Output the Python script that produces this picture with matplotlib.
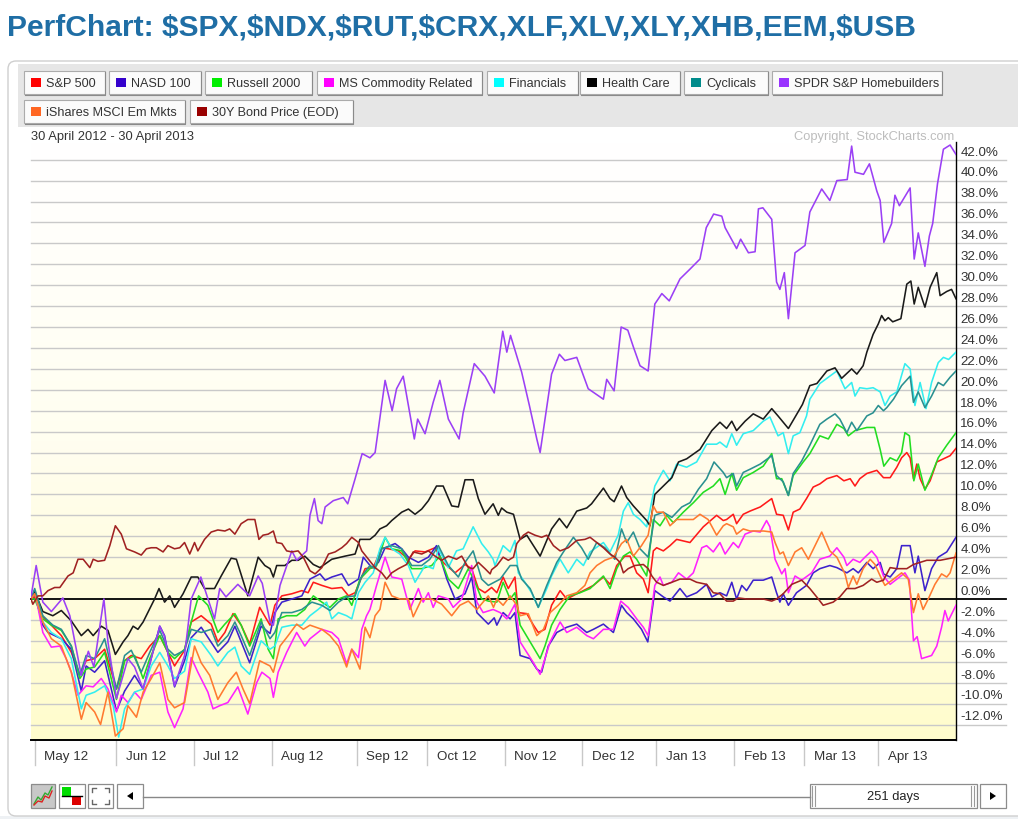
''' PERFCHART RECREATION '''

import numpy as np
import matplotlib.pyplot as plt
from matplotlib.patches import Rectangle, FancyBboxPatch, Polygon
from matplotlib.colors import LinearSegmentedColormap

plt.rcParams['font.family'] = ['Liberation Sans', 'DejaVu Sans']

W, H = 1018, 820

# (trading day since 30 Apr 2012, % change)
spx = [(0,0),(1,0.2),(3.2,-1.7),(5.5,-2.5),(8.2,-3.5),(10.9,-5.1),(13.2,-7.2),(14.9,-5.9),(17.2,-5.7),(19.9,-4.8),(23.1,-8.6),(25.3,-5.9),(27.1,-5.4),(29.8,-5.7),(32.1,-4.5),(34.8,-3.5),(37,-5.1),(38.8,-6.4),(41.5,-4.9),(43.3,-2.2),(46,-1.6),(48.7,-2.4),(50.5,-4.1),(52.4,-3.2),(54.6,-1.4),(56.8,-2.5),(59.1,-4.3),(61.8,-0.8),(64.6,-2.5),(65.9,-0.6),(67.8,0.3),(70.5,0.5),(73.2,0.8),(74.9,0.6),(76.3,1.6),(78.6,1.3),(81.3,1.0),(84,1.1),(85.8,0.3),(87.6,0.6),(90.3,2.9),(92.5,3.0),(94.8,4.9),(96.6,4.8),(99.3,4.6),(102,3.8),(103.8,4.6),(106.5,4.5),(109.2,4.9),(111.4,3.5),(114.6,2.5),(117.3,3.3),(119.1,2.9),(120.9,1.0),(122.7,0.6),(124.5,1.1),(125.9,0.6),(127.6,2.1),(129,1.0),(130.8,2.1),(131.7,-1.3),(134,-1.4),(135.8,-2.5),(137.1,-3.2),(138.9,-2.9),(140.7,-0.6),(143,0.8),(144.8,0.0),(147.5,0.5),(149.3,0.8),(152,1.3),(154.7,2.1),(156.5,1.4),(158.3,3.2),(160.5,4.1),(161.9,4.1),(163.7,2.5),(165.5,1.9),(166.8,0.6),(168.2,4.6),(169.1,4.9),(170.9,4.6),(172.7,5.1),(174.5,5.7),(178.1,5.4),(181.7,6.9),(185.3,8.0),(187.1,7.5),(188,7.6),(189.8,8.1),(190.7,7.2),(192.5,8.1),(194.3,8.4),(197.1,8.8),(200.2,9.6),(201.5,8.1),(203.3,8.0),(204.7,6.6),(206,8.3),(207.8,8.6),(209.6,9.6),(211.4,10.7),(213.2,11.0),(215.1,11.5),(217.8,11.8),(219.7,11.3),(221.4,11.5),(222.7,10.8),(224,11.5),(225.9,12.0),(228.6,12.3),(230.4,11.6),(232.2,11.6),(234,12.6),(235.3,13.5),(236.7,14.0),(237.6,13.5),(238.5,11.5),(239.4,12.9),(240.3,11.5),(241.6,10.5),(243,11.3),(244.8,13.1),(246.6,13.4),(248.4,13.7),(250,14.4)]

ndx = [(0,0),(1,0.5),(3.2,-2.5),(4.6,-3.2),(8.2,-3.8),(10.9,-4.8),(13.6,-8.8),(14.9,-6.4),(17.2,-7.0),(19.9,-5.9),(23.1,-10.7),(25.3,-8.8),(28,-7.3),(30.3,-8.6),(34.8,-2.6),(36.1,-3.5),(38.8,-8.4),(41.5,-5.9),(43.3,-3.7),(46,-2.7),(50.5,-5.1),(53.2,-4.1),(55.1,-2.6),(59.1,-6.1),(62.2,-2.6),(64.6,-3.3),(65.9,-1.3),(67.8,-0.3),(70.5,0.0),(73.2,0.3),(75.4,1.9),(78.1,2.4),(79.5,1.8),(81.3,2.1),(84,2.4),(85.8,1.3),(88.5,1.9),(89.8,4.0),(92.1,3.0),(93.9,3.5),(95.7,4.9),(98.4,5.3),(100.2,4.8),(102,4.0),(104.7,3.5),(107.4,4.0),(109.6,5.1),(112.4,1.9),(114.6,0.0),(117.3,0.5),(119.1,2.1),(120.5,-1.3),(123.6,-2.4),(125.2,-1.8),(125.9,-2.5),(127.6,-1.3),(129.5,-1.9),(130.8,-1.3),(132.2,-5.4),(134.9,-5.7),(136.7,-6.7),(138,-7.0),(139.8,-4.5),(142.1,-3.2),(144.8,-2.7),(147.5,-2.4),(150.2,-3.2),(152,-2.9),(154.7,-2.4),(157.4,-3.2),(159.6,-0.6),(161,-1.3),(162.8,-1.9),(165,-2.9),(166.7,-4.1),(168.6,0.8),(170.9,0.2),(172.7,-0.2),(175.4,1.0),(177.2,0.2),(179.9,0.6),(182.6,1.4),(184,0.2),(186.2,0.6),(188,0.3),(189.4,1.6),(190.7,0.0),(192.1,1.3),(193.4,0.8),(195.2,1.8),(197.9,1.8),(200.2,2.1),(201.5,0.6),(202.4,-0.3),(203.3,0.5),(204.7,-0.6),(206.9,0.6),(209.6,1.3),(211.4,2.5),(213.2,2.9),(215.9,3.2),(217.8,3.0),(220.5,2.5),(222.2,2.9),(223.6,2.5),(225.9,3.5),(227.6,2.9),(229.5,3.5),(230.4,2.4),(232.2,2.1),(234,2.9),(235.3,5.1),(237.6,5.1),(238.9,2.5),(239.8,4.1),(241.6,0.8),(243.4,2.9),(245.2,4.0),(247.5,4.5),(250,5.9)]

rut = [(0,0),(1,0.0),(3.2,-1.9),(5.5,-2.5),(8.2,-3.0),(10.9,-4.5),(13.2,-7.6),(14.9,-6.7),(17.2,-6.5),(19.9,-5.1),(23.1,-9.6),(25.3,-5.9),(28,-5.4),(30.3,-7.6),(32.1,-5.7),(34.8,-3.5),(37,-5.1),(38.8,-5.7),(41.5,-4.8),(43.3,-2.2),(45.3,0.3),(47.8,-0.6),(50.5,-3.2),(52.4,-2.4),(55.1,-1.4),(56.8,-2.5),(59.1,-4.5),(62.2,-1.9),(64.1,-4.8),(65.5,-5.7),(66.8,-1.9),(69.1,-1.6),(71.8,-1.6),(74,-1.0),(76.3,0.3),(78.6,-0.3),(80.8,-0.8),(83.1,0.0),(85.3,0.3),(86.7,-0.6),(88.9,1.9),(91.6,2.9),(93.4,3.2),(95.7,5.9),(97.5,4.8),(100.2,4.6),(102.9,2.9),(105.6,2.9),(108.3,3.2),(110.5,4.1),(112.8,1.9),(115.5,1.0),(118.2,2.9),(120,1.6),(121.8,0.0),(123.6,-0.2),(125.9,-0.3),(127.6,1.6),(129.5,0.0),(130.8,0.6),(132.2,-2.5),(134.9,-4.1),(137.6,-5.7),(138.9,-4.5),(140.7,-2.5),(143,-1.0),(145.6,0.3),(148.4,0.6),(151.1,1.0),(152.9,1.6),(154.7,2.2),(156.5,1.0),(158.3,2.9),(160.1,4.1),(161.9,4.5),(163.7,3.8),(166.4,2.2),(168.2,7.6),(170,7.0),(171.8,8.0),(173.6,7.3),(176.3,8.3),(179,9.2),(181.7,10.2),(184.4,10.8),(186.2,11.5),(187.6,10.0),(189.4,12.0),(190.7,10.4),(192.5,11.6),(195.2,12.1),(197.9,12.7),(200.2,13.9),(201.5,11.5),(202.9,11.5),(204.7,9.9),(206,11.8),(208.7,13.1),(210.5,13.9),(213.2,15.6),(215.5,15.3),(217.8,16.7),(219.7,16.3),(220.9,15.6),(222.7,16.1),(225.9,16.4),(228,16.4),(229.5,14.3),(230.5,12.7),(232.2,13.5),(234,13.2),(235.3,14.0),(236.2,15.9),(237.4,15.6),(238.6,11.3),(239.8,12.9),(241.6,10.4),(243.3,11.8),(245.2,13.5),(247.5,14.7),(250,15.9)]

crx = [(0,0),(1,0.8),(3.2,-3.2),(5.5,-4.6),(7.8,-4.5),(9.5,-5.7),(10.9,-7.0),(12.7,-9.2),(14.9,-8.3),(16.8,-8.4),(19,-7.6),(20.8,-8.6),(23.1,-10.8),(24.4,-9.2),(26.2,-9.9),(28,-8.9),(29.8,-9.6),(32.5,-7.3),(34.8,-7.0),(37,-10.8),(38.8,-12.3),(41.1,-10.5),(43.3,-5.6),(45.1,-7.0),(47.8,-8.9),(49.2,-10.5),(51,-10.2),(53.2,-9.9),(55.9,-8.4),(58.6,-11.0),(61,-8.0),(62.4,-7.0),(64.6,-7.6),(65.5,-9.4),(66.8,-7.0),(69.1,-5.1),(71.8,-3.2),(74,-4.5),(75.4,-3.8),(78.6,-2.9),(81.3,-3.2),(83.1,-3.8),(85.3,-6.2),(86.7,-4.8),(88.5,-5.6),(89.4,-2.9),(90.7,-1.6),(91.6,-1.0),(93.4,1.3),(95.7,4.0),(97.5,2.1),(100.2,1.9),(102.4,-1.0),(104.7,1.0),(106,-0.3),(107.4,0.6),(108.7,-0.8),(110.1,0.3),(112.8,0.0),(114.1,-0.8),(116.4,0.0),(119.1,3.2),(120.5,-0.3),(122.2,-1.3),(124.9,-1.0),(126.8,-1.3),(128.6,-1.9),(130.8,-0.5),(132.2,-4.1),(134,-5.1),(135.8,-6.1),(137.6,-7.2),(138.9,-5.7),(140.3,-4.1),(143,-2.2),(144.8,-3.2),(147.5,-2.7),(150.2,-3.5),(152,-3.8),(154.7,-2.9),(157.4,-2.9),(159.4,-0.2),(161.4,-0.8),(163.7,-1.9),(165.5,-2.7),(166.8,-3.5),(168.6,1.3),(170,2.1),(170.9,1.3),(173.2,1.6),(175,2.5),(177.2,1.9),(179,2.5),(181.3,4.9),(182.6,5.1),(184.4,4.5),(186.2,5.4),(187.6,4.3),(189.8,5.4),(191.2,4.9),(193,6.2),(195.2,6.5),(197.1,6.4),(198.8,7.5),(199.7,6.9),(201.1,3.8),(202.9,2.4),(203.8,2.9),(204.7,0.6),(206.5,2.2),(208.3,1.8),(211,2.5),(213.2,3.8),(215.9,4.1),(217.8,4.9),(219.7,4.0),(220.5,3.2),(222.2,3.8),(224,3.5),(225.4,4.0),(227.2,4.6),(228.6,4.0),(230.4,2.2),(232.2,1.4),(234,1.9),(236.2,2.5),(237.4,1.8),(238.5,-4.0),(239.5,-3.6),(240.7,-5.7),(243.4,-5.4),(244.8,-4.5),(246.1,-2.7),(247,-1.1),(247.9,-2.1),(250,-0.6)]

xlf = [(0,0),(1,0.6),(3.2,-2.2),(5.5,-3.2),(8.2,-3.8),(10.9,-5.7),(13.6,-10.5),(14.9,-9.2),(17.2,-8.9),(19.9,-8.3),(22.2,-10.2),(23.7,-13.2),(25.3,-10.5),(28,-8.9),(30.3,-8.6),(32.5,-6.4),(34.8,-5.1),(37,-6.4),(38.8,-7.6),(41.5,-6.9),(43.3,-3.8),(46,-4.1),(48.7,-5.4),(50.5,-6.4),(53.2,-5.1),(55.1,-4.6),(56.8,-6.4),(59.1,-7.2),(62.2,-4.0),(64.6,-4.8),(65.9,-4.5),(67.8,-2.7),(70.5,-2.5),(73.2,-2.5),(75.4,-1.6),(77.6,-1.0),(79.9,-0.3),(81.3,-1.9),(83.1,-1.3),(85.3,-1.6),(86.7,-1.9),(88.5,0.6),(90.3,1.6),(92.5,2.5),(94.3,4.8),(95.7,5.9),(97.5,4.8),(99.7,4.3),(102,3.2),(103.8,1.6),(106.5,3.2),(108.7,2.9),(110.1,4.8),(112.8,3.0),(115,4.6),(116.8,4.8),(119.5,6.9),(121.8,5.3),(123.6,4.5),(124.9,3.8),(125.4,3.2),(127.6,5.1),(129.5,4.5),(130.8,5.6),(131.7,2.5),(133.5,1.6),(135.3,0.6),(137.1,-0.8),(139.4,1.0),(140.7,2.2),(143,3.8),(145.2,2.5),(147.5,3.8),(149.3,3.2),(151.1,4.5),(154.7,5.4),(156.5,4.5),(158.7,6.1),(160.1,8.4),(161.4,9.2),(162.8,8.1),(164.6,7.6),(166.4,6.9),(168.6,10.8),(170.9,12.3),(172.7,11.3),(174.5,12.9),(177.2,12.6),(179.9,13.1),(182.6,14.8),(185.3,14.8),(186.2,15.0),(188,14.5),(189.4,15.8),(190.7,14.7),(192.5,15.8),(195.2,16.1),(197.9,17.0),(199.7,17.4),(201.9,15.6),(203.3,15.9),(204.7,13.9),(206,15.6),(207.8,15.9),(209.6,17.5),(210.5,19.1),(213.2,20.6),(215.5,21.2),(217.8,21.8),(220,20.1),(221.8,20.7),(222.7,19.4),(224,20.2),(225.9,20.1),(227.6,20.2),(229.5,19.8),(230.8,18.5),(232.2,19.4),(234,19.8),(236.2,22.5),(237.6,22.0),(238.9,18.5),(240.3,20.7),(241.9,18.2),(243.4,20.7),(245.2,22.6),(246.6,23.1),(248,22.9),(250,23.6)]

xlv = [(0,0),(1,0.7),(3.2,-1.2),(5.9,-1.6),(8.2,-1.1),(10.9,-2.1),(13.6,-3.5),(15.4,-2.9),(16.8,-3.5),(19,-2.6),(20.8,-3.0),(22.8,-5.3),(24.9,-4.1),(26.2,-3.5),(27.6,-2.6),(28.9,-2.9),(30.3,-2.2),(33.4,0.0),(34.6,1.0),(36.1,-0.3),(37.5,0.3),(38.8,-0.8),(41.1,0.5),(43.3,2.1),(45.1,2.1),(46.9,1.0),(49.6,1.0),(51.4,2.2),(54.1,3.9),(55.5,3.8),(58.6,0.3),(61.4,4.0),(63.2,3.2),(64.6,2.9),(65.5,2.1),(66.4,3.2),(68.6,3.2),(70.5,3.7),(72.2,3.7),(74,4.1),(76.3,3.3),(78.1,3.0),(81.3,3.8),(84.9,4.1),(87.6,4.3),(88.9,5.7),(91.6,5.7),(93,6.1),(94.3,6.7),(96.1,7.0),(97.5,7.5),(100.2,8.3),(102,8.6),(103.8,8.1),(105.6,8.6),(107.4,9.4),(109.6,10.8),(111.4,10.8),(113.7,8.9),(115.5,8.8),(117.3,11.4),(119.5,11.4),(120.9,9.6),(122.7,8.1),(124.9,9.1),(126.3,8.0),(127.2,8.7),(128.6,8.3),(130.4,8.1),(132.2,5.7),(134,6.1),(135.8,5.1),(137.6,4.1),(140.7,6.7),(142.8,7.7),(144.8,6.8),(147.5,8.4),(150.2,8.7),(151.5,9.1),(154.7,10.6),(156.5,9.6),(157.6,9.3),(159.6,10.8),(161,9.7),(162.8,8.9),(166.4,7.5),(167.3,7.0),(168.6,10.0),(170.9,10.8),(173.2,11.6),(175,13.1),(177.2,13.4),(180.8,14.3),(184,16.1),(186.2,16.9),(188,16.3),(189.4,17.0),(190.7,16.1),(193,17.0),(195.2,17.7),(197.9,17.2),(200.2,18.2),(201.9,17.5),(204.7,16.3),(207,17.7),(208.5,18.6),(210.5,20.4),(212.4,20.6),(215.1,21.8),(217.3,22.1),(219.1,21.1),(221.8,22.0),(223.2,21.5),(224.9,22.3),(225.9,23.6),(227.6,25.3),(229,26.3),(229.9,27.1),(230.8,26.6),(231.7,26.9),(232.9,26.5),(235.1,26.8),(236.7,30.1),(237.8,30.4),(238.7,28.2),(239.8,29.8),(241.6,27.9),(243,29.8),(244.8,31.2),(245.7,29.0),(247.5,29.4),(248.8,29.6),(250,28.7)]

xly = [(0,0),(1,1.0),(3.2,-1.6),(5.9,-2.5),(8.2,-2.9),(10.9,-4.5),(13.2,-7.3),(14.9,-5.4),(17.2,-5.7),(19.9,-3.8),(23.1,-8.6),(25.3,-5.4),(27.1,-4.9),(29.8,-7.0),(32.1,-5.1),(34.8,-3.0),(37,-4.8),(38.8,-5.4),(41.5,-4.9),(43.3,-2.9),(46,-3.2),(48.7,-2.9),(50.5,-4.5),(53.2,-3.5),(55.1,-2.2),(56.8,-3.5),(59.1,-5.4),(62.2,-2.2),(64.6,-3.8),(65.9,-3.2),(67.8,-1.3),(70.5,-1.3),(73.2,-1.0),(75.9,-0.3),(78.6,-0.6),(80.8,-1.1),(83.1,-0.3),(85.3,0.2),(87.6,0.3),(89.4,2.2),(91.6,3.2),(93,2.9),(94.8,4.8),(97.5,5.1),(100.2,4.8),(102.9,3.2),(105.6,3.2),(107.8,3.8),(110.1,5.1),(112.8,3.2),(115.5,2.1),(117.3,3.5),(119.5,4.6),(121.8,1.9),(123.6,1.3),(126.8,1.9),(129.5,3.2),(131.3,3.2),(132.6,1.9),(134.9,1.0),(137.1,-0.8),(139.4,1.3),(142.1,3.5),(143.9,4.5),(146.6,5.9),(148.8,4.9),(150.6,3.8),(152.9,5.4),(155.1,4.9),(157.8,3.8),(159.6,6.7),(161,5.4),(162.8,6.4),(164.6,4.8),(166.8,4.0),(168.6,8.0),(170.9,8.3),(173.2,7.8),(175.9,8.8),(178.1,9.2),(180.4,10.5),(182.6,11.5),(184.6,13.1),(187.1,12.1),(188,11.6),(189.8,12.0),(190.7,10.8),(192.5,12.1),(194.3,12.4),(197.1,12.9),(200.2,13.7),(201.5,11.8),(203.3,11.2),(204.7,9.9),(206,12.0),(208.3,13.2),(210.5,14.7),(213.2,16.7),(215.1,17.2),(217.3,17.7),(218.6,17.2),(220.5,15.9),(221.8,16.9),(223.2,16.1),(225.9,17.5),(227.6,17.8),(229,18.5),(230.4,18.0),(231.3,18.3),(233.1,19.1),(235.3,20.4),(237.6,21.3),(238.5,18.8),(239.8,19.8),(241.6,18.3),(243.4,19.4),(245.2,20.7),(246.6,20.4),(248.4,21.2),(250,21.8)]

xhb = [(0,0.2),(1.4,3.2),(3.2,-0.3),(5.5,-1.2),(8.6,0.1),(10.5,-1.6),(13.6,-7.3),(15.5,-5.0),(17,-6.5),(18.6,-2.6),(19.7,0.0),(20.8,-4.1),(23.1,-9.5),(26.2,-5.7),(28,-6.5),(30.3,-8.6),(34.8,-2.6),(36,-3.5),(38.8,-8.3),(41.5,-5.4),(43.3,0.0),(45.9,2.1),(49.6,-1.9),(51,1.0),(52.7,0.2),(55.9,1.4),(59.1,0.3),(61.4,2.2),(62.5,1.5),(64.6,-2.2),(65.5,-2.5),(67.3,1.3),(70.5,4.6),(71.8,3.7),(74.5,4.6),(75.4,8.0),(76.6,9.6),(77.6,7.5),(78.6,7.2),(79.5,8.8),(81.7,9.4),(84.4,9.7),(85.6,9.1),(87.6,11.5),(89.5,13.9),(91.6,13.5),(93,14.0),(95.7,20.9),(97.6,18.0),(98.8,20.1),(100.6,21.3),(103.6,15.3),(104.5,17.2),(106.5,15.8),(108.7,18.8),(110.5,20.9),(112.8,17.2),(115.7,15.3),(116.8,17.8),(119.8,22.5),(122.7,21.3),(125.2,19.7),(127.5,25.6),(128.6,23.6),(129.6,25.2),(132.6,21.7),(134.7,18.5),(136.7,15.3),(137.6,14.0),(140.7,21.5),(142.8,23.4),(144.3,22.8),(147.5,23.1),(150.6,20.1),(154.7,19.1),(155.6,21.0),(157.6,19.9),(159.5,26.0),(161.3,25.7),(162.8,24.1),(164.6,22.3),(166.8,21.8),(168.6,28.2),(170.5,29.2),(172.5,28.5),(175.4,30.6),(178,31.5),(180.8,32.5),(182.5,35.5),(184.5,36.8),(186.7,36.6),(187.6,35.5),(190.7,33.5),(191.8,34.4),(193.9,33.1),(195.7,33.2),(196.6,37.3),(197.8,37.4),(200.2,36.3),(201.5,30.3),(202.4,29.6),(203.6,31.2),(204.7,26.8),(206.5,33.1),(209.2,33.8),(210.5,37.0),(213.7,39.2),(215.9,38.1),(217.8,40.0),(220.6,40.1),(221.8,43.3),(222.7,40.8),(225,40.6),(226.6,41.6),(228.6,39.0),(229.5,38.1),(230.5,34.1),(232.6,35.9),(233.5,38.6),(234.7,37.6),(237.6,39.3),(238.7,32.5),(239.8,35.0),(241.6,31.8),(242.8,34.7),(243.7,35.9),(245,39.7),(246.6,43.0),(248.4,43.4),(250,42.5)]

eem = [(0,0),(1,0.5),(3.2,-2.2),(5.5,-3.8),(8.2,-4.5),(10.9,-7.0),(13.6,-11.5),(14.9,-9.9),(17.2,-10.8),(18.8,-12.0),(20.8,-8.9),(22.8,-13.1),(24.9,-12.4),(26.2,-10.2),(28.5,-11.3),(30.3,-8.9),(32.5,-7.6),(34.8,-6.1),(37,-9.6),(38.8,-10.4),(41.5,-9.9),(44.2,-4.5),(46,-6.1),(48.3,-7.3),(50.5,-9.6),(53.2,-8.0),(55.5,-7.0),(57.3,-8.6),(59.1,-10.0),(61.8,-5.9),(64.6,-6.4),(65.5,-7.0),(67.3,-4.5),(69.5,-3.5),(71.8,-2.4),(73.6,-2.9),(75.4,-2.5),(78.6,-2.9),(80.8,-3.5),(83.1,-4.5),(85.3,-6.5),(86.7,-4.8),(88.9,-6.7),(90.3,-2.7),(91.6,-3.7),(93,-1.6),(94.3,-1.0),(95.7,1.6),(97.5,0.3),(99.7,0.0),(102,0.0),(103.3,-1.7),(105.6,0.0),(108.3,0.0),(111,-0.5),(113.7,-1.6),(115.9,-0.6),(118.2,-0.2),(120.5,-1.0),(123.6,0.3),(125,-0.8),(125.9,0.0),(127.6,-0.6),(129.5,0.3),(131.3,-0.6),(132.2,-1.6),(134.4,-1.4),(136.7,-3.5),(138.5,-2.9),(140.3,-1.3),(142.5,-0.6),(144.8,0.3),(147.5,0.6),(149.7,1.3),(151.1,2.5),(152.9,3.2),(155.1,3.7),(157.4,4.0),(159.6,5.3),(161,5.7),(162.8,4.1),(165,5.1),(166.8,6.1),(168.2,8.9),(169.1,8.3),(170.9,8.3),(172.7,7.0),(174.5,7.6),(176.8,7.6),(179,7.6),(180.8,8.1),(183,7.6),(185.3,6.1),(187.1,7.0),(188,7.2),(189.8,6.9),(190.7,6.2),(192.5,6.7),(194.3,6.5),(196.1,6.5),(198,6.5),(200.2,6.4),(201.1,5.4),(202.4,4.3),(203.3,4.5),(204.7,3.2),(206.5,4.5),(208.3,4.9),(210.1,3.8),(211.9,5.1),(213.7,6.4),(215.9,4.6),(217.8,4.0),(220,2.4),(220.9,1.1),(222.2,2.2),(223.2,1.4),(224.9,2.9),(226.8,3.8),(228.1,3.3),(229.9,1.9),(230.8,1.3),(233.1,1.9),(235.3,2.5),(237.1,1.9),(238.5,-1.3),(239.8,0.5),(241.1,-1.0),(242.5,0.0),(244.3,1.4),(246.1,2.4),(247.5,2.1),(248.4,2.5),(250,4.4)]

usb = [(0,0),(0.5,-0.5),(1.9,0.3),(3.2,0.3),(4.6,0.8),(6.4,1.1),(7.8,1.1),(10,2.2),(11.4,2.5),(12.7,3.8),(14.1,3.8),(15.9,3.0),(16.8,3.8),(18.1,3.6),(19.9,3.7),(21.3,5.1),(22.8,7.0),(24.4,6.2),(25.8,4.8),(28,4.5),(29.8,4.2),(31.2,4.8),(32.5,4.9),(33.9,4.9),(35.7,4.5),(37,5.1),(38.8,4.8),(40.2,4.9),(41.5,5.4),(42.9,4.3),(44.2,5.4),(45.1,4.6),(46.9,5.7),(48.7,6.4),(50.5,6.6),(52.4,6.5),(53.7,6.7),(55.1,6.2),(56.8,7.2),(58.6,7.6),(60.5,7.6),(61.6,5.7),(62.7,6.1),(64.1,6.2),(65.5,6.5),(66.4,5.4),(67.8,5.3),(69.1,4.6),(70.5,4.5),(72.2,4.6),(73.6,4.0),(75.4,2.7),(76.8,2.4),(78.6,3.0),(80.4,4.3),(82.2,4.5),(84,4.9),(85.3,5.3),(86.7,5.9),(88.5,5.4),(89.4,4.6),(91.2,3.8),(93,3.0),(94.8,2.5),(96.1,1.9),(97.5,2.5),(99.3,2.9),(101.5,3.3),(103.3,4.5),(105.6,4.3),(107.4,4.6),(109.2,4.1),(111,3.7),(112.8,4.1),(115,3.8),(116.4,4.1),(118.2,3.0),(119.5,2.9),(120.9,3.5),(122.7,2.9),(124.1,2.4),(124.5,2.8),(125.9,3.2),(127.6,4.0),(129,3.7),(130.4,4.0),(131.3,5.3),(133.1,6.1),(134.4,6.4),(136.2,6.1),(138,5.9),(139.4,6.1),(141.2,5.1),(143,4.6),(145.2,4.9),(147.5,5.6),(149.7,5.7),(151.1,5.9),(152.9,5.4),(154.7,4.9),(156.5,4.3),(157.8,4.0),(159.2,3.5),(160.1,2.5),(161.4,2.9),(163.2,3.2),(165.5,3.3),(166.8,2.9),(167.8,2.2),(169.1,1.6),(170.9,1.3),(173.2,1.6),(175.4,1.9),(178.1,1.9),(179.9,1.6),(182.6,1.4),(184.4,0.6),(186.2,0.5),(188,-0.2),(189.8,-0.2),(191.2,0.1),(193.4,0.0),(195.2,0.0),(197.9,0.0),(200.2,-0.2),(201.5,0.0),(203.3,0.5),(205.6,1.4),(208.3,1.8),(210.5,1.0),(212.8,0.0),(214.1,-0.6),(216.8,-0.3),(218.6,0.2),(220.5,1.0),(222.7,1.0),(224.9,1.3),(227.2,1.9),(228.6,1.6),(230.4,1.8),(232.2,3.0),(234,2.9),(236.7,2.9),(238.5,3.3),(242.1,3.7),(245.7,3.7),(250,4.0)]

names = ["S&P 500", "NASD 100", "Russell 2000", "MS Commodity Related", "Financials",
         "Health Care", "Cyclicals", "SPDR S&P Homebuilders", "iShares MSCI Em Mkts",
         "30Y Bond Price (EOD)"]
swatch_colors = ["#FF0000", "#3300CC", "#00EE00", "#FF00FF", "#00FFFF",
                 "#000000", "#008B8B", "#9933FF", "#FF6622", "#990000"]
line_colors = ["#FF1A1A", "#3D22CC", "#22DD22", "#FF22FF", "#33EEF0",
               "#1A1A1A", "#2A9090", "#9B40F5", "#FF7A30", "#A02222"]
all_series = [spx, ndx, rut, crx, xlf, xlv, xly, xhb, eem, usb]

month_labels = ["May 12", "Jun 12", "Jul 12", "Aug 12", "Sep 12", "Oct 12",
                "Nov 12", "Dec 12", "Jan 13", "Feb 13", "Mar 13", "Apr 13"]
month_starts = [1, 23, 44, 65, 88, 107, 128, 149, 169, 190, 209, 229]
y_ticks = list(range(-12, 43, 2))

fig = plt.figure(figsize=(W / 100, H / 100), dpi=100)

# page / panel decoration in pixel coords
bg = fig.add_axes([0, 0, 1, 1])
bg.set_xlim(0, W)
bg.set_ylim(H, 0)
bg.axis('off')

bg.add_patch(Rectangle((0, 817), W, 3, fc='#EEF1F4', ec='none'))
bg.add_patch(FancyBboxPatch((8, 62), 1040, 755, boxstyle="round,pad=0,rounding_size=8",
                            fc='white', ec='#CFCFCF', lw=1.0))
bg.add_patch(Rectangle((18, 65), 1000, 63, fc='#E6E6E6', ec='none'))

bg.text(7, 28, 'PerfChart: \\$SPX,\\$NDX,\\$RUT,\\$CRX,XLF,XLV,XLY,XHB,EEM,\\$USB',
        fontsize=21.6, fontweight='bold', color='#1F6EA5', va='center', ha='left')

# legend buttons
buttons = [(24, 105, 72), (109, 201, 72), (205, 312, 72), (317, 482, 72), (487, 578, 72),
           (580, 680, 72), (684, 768, 72), (772, 942, 72), (24, 185, 101), (190, 353, 101)]
for (x0, x1, y0), name, col in zip(buttons, names, swatch_colors):
    bg.add_patch(Rectangle((x0, y0), x1 - x0, 23, fc='#FBFBFB', ec='#ABABAB', lw=0.8))
    bg.plot([x0 + 1, x1, x1], [y0 + 23.5, y0 + 23.5, y0 + 1], color='#8A8A8A', lw=0.8)
    bg.add_patch(Rectangle((x0 + 7, y0 + 7), 10, 9, fc=col, ec='none'))
    bg.text(x0 + 22.5, y0 + 12, name, fontsize=9.1, color='#333333', va='center', ha='left')

# texts above the chart top edge, drawn at figure level so the chart does not cover them
fig.text(31 / W, 1 - 137 / H, '30 April 2012 - 30 April 2013', fontsize=9.3,
         color='#333333', va='center', ha='left')
fig.text(954 / W, 1 - 137 / H, 'Copyright, StockCharts.com', fontsize=9.3,
         color='#BDBDBD', va='center', ha='right')

# bottom controls
def button(x0, x1, fc='white'):
    bg.add_patch(Rectangle((x0, 785), x1 - x0, 24, fc=fc, ec='#8C8C8C', lw=0.9))

button(31, 55, fc='#C8C8C8')
bg.plot([34, 38, 41, 45, 48, 52], [805, 798, 801, 794, 796, 788], color='#33AA33', lw=1)
bg.plot([34, 38, 42, 45, 49, 52], [806, 802, 803, 797, 799, 792], color='#DD2222', lw=1)
button(59, 85)
bg.add_patch(Rectangle((62, 788), 9, 9, fc='#00DD00', ec='none'))
bg.add_patch(Rectangle((72, 797), 9, 9, fc='#DD0000', ec='none'))
bg.plot([62, 82], [797, 797], color='black', lw=1)
button(88, 113)
for cx, cy, sx, sy in [(92, 789, 1, 1), (109, 789, -1, 1), (92, 805, 1, -1), (109, 805, -1, -1)]:
    bg.plot([cx + 4 * sx, cx, cx], [cy, cy, cy + 4 * sy], color='#666666', lw=1)
button(117, 143)
bg.add_patch(Polygon([(127, 797), (133, 793), (133, 801)], fc='black', ec='none'))
bg.plot([143, 810], [797.5, 797.5], color='#888888', lw=1)
button(810, 977)
for xx in [812.5, 815.5, 971.5, 974.5]:
    bg.plot([xx, xx], [787, 807], color='#9A9A9A', lw=0.8)
bg.text(893, 797, '251 days', fontsize=9.3, color='#222222', ha='center', va='center')
button(980, 1006)
bg.add_patch(Polygon([(996, 797), (990, 793), (990, 801)], fc='black', ec='none'))

# main chart axes
ylo, yhi = -13.48, 43.69
ax = fig.add_axes([31 / W, 1 - 741 / H, 925 / W, 598 / H])
ax.set_facecolor('none')
cmap = LinearSegmentedColormap.from_list('bgfade', ['#FFFFFF', '#FFFEF0', '#FFFCCC'])
ax.imshow(np.linspace(0, 1, 256).reshape(-1, 1), cmap=cmap, aspect='auto',
          extent=[0, 250, ylo, yhi], zorder=0, interpolation='bilinear')

for v in y_ticks:
    if v == 0:
        continue
    ax.plot([0, 263.5], [v, v], color='#C9C9C9', lw=1.0, clip_on=False, zorder=1)
    ax.text(251.2, v + 0.78, f'{v:.1f}%', fontsize=9.6, color='#333333',
            va='center', ha='left', clip_on=False)
ax.plot([0, 263.5], [0, 0], color='black', lw=1.3, clip_on=False, zorder=2)
ax.text(251.2, 0.78, '0.0%', fontsize=9.6, color='#333333', va='center', ha='left')

for pts, col in zip(all_series, line_colors):
    d, p = zip(*pts)
    ax.plot(d, p, color=col, lw=1.15, zorder=3, solid_joinstyle='round')

ax.set_xlim(0, 250)
ax.set_ylim(ylo, yhi)
ax.set_xticks([])
ax.set_yticks([])
for s in ['left', 'top']:
    ax.spines[s].set_visible(False)
ax.spines['bottom'].set_linewidth(1.4)
ax.spines['right'].set_linewidth(1.0)

trans = ax.get_xaxis_transform()
for d, lab in zip(month_starts, month_labels):
    ax.plot([d, d], [0, -0.042], color='#C8C8C8', lw=1.0, transform=trans, clip_on=False)
    ax.text(d + 2.6, -0.026, lab, fontsize=9.6, color='#333333', va='center', ha='left',
            transform=trans)

fig.savefig('out.png', dpi=100)
